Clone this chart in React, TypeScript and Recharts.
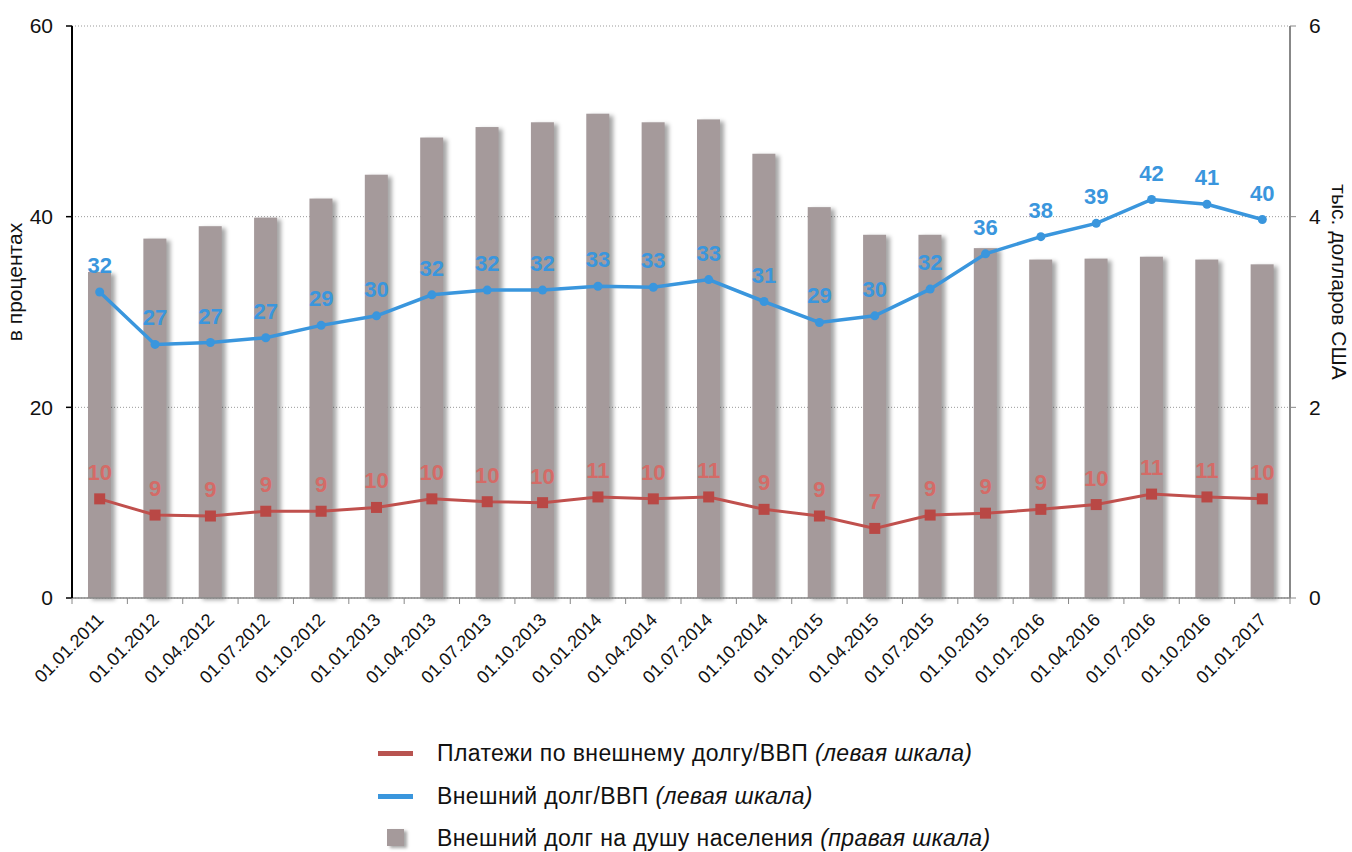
import React from 'react';
import {
  ComposedChart, Bar, Line, XAxis, YAxis, CartesianGrid, LabelList,
} from 'recharts';

const dates = [
  '01.01.2011', '01.01.2012', '01.04.2012', '01.07.2012', '01.10.2012', '01.01.2013',
  '01.04.2013', '01.07.2013', '01.10.2013', '01.01.2014', '01.04.2014', '01.07.2014',
  '01.10.2014', '01.01.2015', '01.04.2015', '01.07.2015', '01.10.2015', '01.01.2016',
  '01.04.2016', '01.07.2016', '01.10.2016', '01.01.2017',
];

// Внешний долг/ВВП, % (left axis)
const debtToGdp = [
  32.1, 26.6, 26.8, 27.3, 28.6, 29.6, 31.8, 32.3, 32.3, 32.7, 32.6, 33.4,
  31.1, 28.9, 29.6, 32.4, 36.1, 37.9, 39.3, 41.8, 41.3, 39.7,
];

// Платежи по внешнему долгу/ВВП, % (left axis)
const paymentsToGdp = [
  10.4, 8.7, 8.6, 9.1, 9.1, 9.5, 10.4, 10.1, 10.0, 10.6, 10.4, 10.6,
  9.3, 8.6, 7.3, 8.7, 8.9, 9.3, 9.8, 10.9, 10.6, 10.4,
];

// Внешний долг на душу населения, тыс. долл. США (right axis)
const debtPerCapita = [
  3.42, 3.77, 3.90, 3.99, 4.19, 4.44, 4.83, 4.94, 4.99, 5.08, 4.99, 5.02,
  4.66, 4.10, 3.81, 3.81, 3.67, 3.55, 3.56, 3.58, 3.55, 3.50,
];

const leftTicks = [0, 20, 40, 60];
const rightTicks = [0, 2, 4, 6];

const data = dates.map((d, i) => ({
  date: d,
  debt: debtToGdp[i],
  payments: paymentsToGdp[i],
  perCapita: debtPerCapita[i],
}));

const FONT = '"Liberation Sans", Arial, sans-serif';
const W = 1352;
const H = 852;
const PLOT_LEFT = 72;
const PLOT_RIGHT = 1290;
const BAND = (PLOT_RIGHT - PLOT_LEFT) / dates.length;

const BLUE = '#3a96dd';
const RED = '#c0504d';
const RED_LABEL = '#d46b67';
const BAR = '#a59a9b';

const XTick = (props: any) => {
  const { x, y, payload, index } = props;
  const ay = y - 8;
  const tx = x + 5;
  const ty = y + 15;
  return (
    <g>
      <line x1={x - BAND / 2} x2={x - BAND / 2} y1={ay} y2={ay + 6} stroke="#888" />
      {index === dates.length - 1 && (
        <line x1={x + BAND / 2} x2={x + BAND / 2} y1={ay} y2={ay + 6} stroke="#888" />
      )}
      <text
        x={tx}
        y={ty}
        textAnchor="end"
        transform={`rotate(-45, ${tx}, ${ty})`}
        fontSize={18}
        fontFamily={FONT}
        fill="#111"
      >
        {payload.value}
      </text>
    </g>
  );
};

const ShadowBar = (props: any) => {
  const { x, y, width, height } = props;
  return (
    <rect
      x={x}
      y={y}
      width={width}
      height={height}
      fill={BAR}
      style={{ filter: 'drop-shadow(4px 2px 2px rgba(0,0,0,0.35))' }}
    />
  );
};

const Square = (props: any) => {
  const { cx, cy } = props;
  if (cx == null || cy == null) return null;
  return <rect x={cx - 5.5} y={cy - 5.5} width={11} height={11} fill="#b94845" />;
};

const round = (v: any) => Math.round(Number(v));

const legendRows = [
  { kind: 'line', color: '#b85450', text: 'Платежи по внешнему долгу/ВВП ', note: '(левая шкала)', y: 753 },
  { kind: 'line', color: BLUE, text: 'Внешний долг/ВВП ', note: '(левая шкала)', y: 796 },
  { kind: 'box', color: BAR, text: 'Внешний долг на душу населения ', note: '(правая шкала)', y: 838 },
];

export default function App() {
  return (
    <div style={{ position: 'absolute', left: 0, top: 0, width: W, height: H, overflow: 'hidden', background: '#fff' }}>
      <ComposedChart
        width={W}
        height={H}
        data={data}
        margin={{ top: 26, right: 0, left: 0, bottom: 0 }}
        barSize={23}
      >
        <CartesianGrid
          yAxisId="left"
          vertical={false}
          stroke="#999"
          strokeDasharray="1 2"
        />
        <XAxis
          dataKey="date"
          height={254}
          interval={0}
          tickLine={false}
          tickSize={6}
          tickMargin={2}
          axisLine={{ stroke: '#888', strokeWidth: 1.5 }}
          tick={<XTick />}
        />
        <YAxis
          yAxisId="left"
          orientation="left"
          width={72}
          domain={[0, 60]}
          ticks={leftTicks}
          axisLine={{ stroke: '#000', strokeWidth: 2 }}
          tickLine={{ stroke: '#000', strokeWidth: 1.5 }}
          tickSize={6}
          tickMargin={13}
          tick={{ fontSize: 21, fill: '#111', fontFamily: FONT }}
          label={{
            value: 'в процентах',
            angle: -90,
            position: 'insideLeft',
            dx: 10,
            dy: -30,
            style: { fontSize: 21, fill: '#111', fontFamily: FONT, textAnchor: 'middle' },
          }}
        />
        <YAxis
          yAxisId="right"
          orientation="right"
          width={62}
          domain={[0, 6]}
          ticks={rightTicks}
          axisLine={{ stroke: '#888', strokeWidth: 2 }}
          tickLine={{ stroke: '#888' }}
          tickSize={6}
          tickMargin={13}
          tick={{ fontSize: 21, fill: '#111', fontFamily: FONT }}
          label={{
            value: 'тыс. долларов США',
            angle: 90,
            position: 'insideRight',
            dx: -8,
            dy: -30,
            style: { fontSize: 21, fill: '#111', fontFamily: FONT, textAnchor: 'middle' },
          }}
        />
        <Bar
          yAxisId="right"
          dataKey="perCapita"
          fill={BAR}
          shape={<ShadowBar />}
          isAnimationActive={false}
        />
        <Line
          yAxisId="left"
          type="linear"
          dataKey="payments"
          stroke={RED}
          strokeWidth={3}
          dot={<Square />}
          activeDot={false}
          isAnimationActive={false}
        >
          <LabelList
            dataKey="payments"
            position="top"
            offset={19}
            formatter={round}
            style={{ fontSize: 22, fontWeight: 'bold', fill: RED_LABEL, fontFamily: FONT }}
          />
        </Line>
        <Line
          yAxisId="left"
          type="linear"
          dataKey="debt"
          stroke={BLUE}
          strokeWidth={3.5}
          dot={{ r: 4.5, fill: BLUE, stroke: BLUE, strokeWidth: 0 }}
          activeDot={false}
          isAnimationActive={false}
        >
          <LabelList
            dataKey="debt"
            position="top"
            offset={19}
            formatter={round}
            style={{ fontSize: 22, fontWeight: 'bold', fill: BLUE, fontFamily: FONT }}
          />
        </Line>
      </ComposedChart>
      {legendRows.map((r) => (
        <div
          key={r.text}
          style={{
            position: 'absolute',
            left: 0,
            top: r.y - 14,
            height: 28,
            display: 'flex',
            alignItems: 'center',
            fontFamily: FONT,
            fontSize: 23,
            letterSpacing: 0.4,
            color: '#111',
            whiteSpace: 'nowrap',
          }}
        >
          {r.kind === 'line' ? (
            <div style={{ position: 'absolute', left: 378, top: 11.5, width: 35, height: 5, background: r.color }} />
          ) : (
            <div
              style={{
                position: 'absolute',
                left: 387,
                top: 5,
                width: 17,
                height: 17,
                background: r.color,
                boxShadow: '3px 2px 3px rgba(0,0,0,0.35)',
              }}
            />
          )}
          <span style={{ position: 'absolute', left: 437 }}>
            {r.text}
            <i>{r.note}</i>
          </span>
        </div>
      ))}
    </div>
  );
}
